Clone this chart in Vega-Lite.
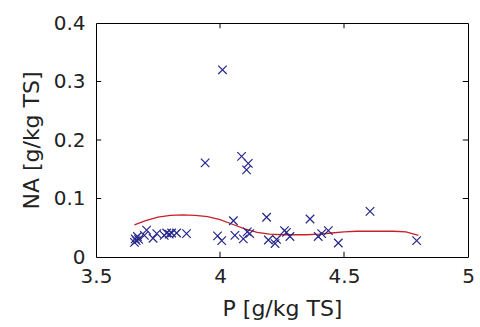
{
  "$schema": "https://vega.github.io/schema/vega-lite/v6.json",
  "width": 372,
  "height": 234,
  "autosize": {"type": "none"},
  "padding": {"left": 96, "top": 23, "right": 12, "bottom": 70},
  "background": "white",
  "config": {
    "view": {"stroke": "#000000", "strokeWidth": 1},
    "font": "DejaVu Sans",
    "axis": {
      "grid": false,
      "domain": false,
      "ticks": false,
      "format": "~g",
      "labelFont": "DejaVu Sans",
      "labelFontSize": 20,
      "labelColor": "#222222",
      "titleFont": "DejaVu Sans",
      "titleFontSize": 22,
      "titleFontWeight": "normal",
      "titleColor": "#222222"
    }
  },
  "datasets": {
    "pts": [
      {"P": 3.655, "NA": 0.025},
      {"P": 3.658, "NA": 0.031},
      {"P": 3.662, "NA": 0.028},
      {"P": 3.667, "NA": 0.035},
      {"P": 3.672, "NA": 0.03},
      {"P": 3.704, "NA": 0.046},
      {"P": 3.695, "NA": 0.037},
      {"P": 3.73, "NA": 0.032},
      {"P": 3.745, "NA": 0.04},
      {"P": 3.775, "NA": 0.037},
      {"P": 3.785, "NA": 0.041},
      {"P": 3.795, "NA": 0.039},
      {"P": 3.805, "NA": 0.041},
      {"P": 3.825, "NA": 0.041},
      {"P": 3.865, "NA": 0.04},
      {"P": 3.94, "NA": 0.161},
      {"P": 3.99, "NA": 0.036},
      {"P": 4.007, "NA": 0.028},
      {"P": 4.01, "NA": 0.32},
      {"P": 4.054, "NA": 0.062},
      {"P": 4.06, "NA": 0.037},
      {"P": 4.087, "NA": 0.172},
      {"P": 4.094, "NA": 0.031},
      {"P": 4.107, "NA": 0.149},
      {"P": 4.114, "NA": 0.16},
      {"P": 4.11, "NA": 0.043},
      {"P": 4.12, "NA": 0.04},
      {"P": 4.188, "NA": 0.068},
      {"P": 4.195, "NA": 0.029},
      {"P": 4.222, "NA": 0.023},
      {"P": 4.228, "NA": 0.03},
      {"P": 4.26, "NA": 0.045},
      {"P": 4.268, "NA": 0.042},
      {"P": 4.282, "NA": 0.035},
      {"P": 4.363, "NA": 0.065},
      {"P": 4.396, "NA": 0.035},
      {"P": 4.41, "NA": 0.04},
      {"P": 4.437, "NA": 0.045},
      {"P": 4.477, "NA": 0.024},
      {"P": 4.605, "NA": 0.078},
      {"P": 4.793, "NA": 0.028}
    ],
    "fit": [
      {"P": 3.655, "NA": 0.055},
      {"P": 3.7, "NA": 0.062},
      {"P": 3.75, "NA": 0.068},
      {"P": 3.8, "NA": 0.071},
      {"P": 3.85, "NA": 0.072},
      {"P": 3.9, "NA": 0.071},
      {"P": 3.95, "NA": 0.069},
      {"P": 4.0, "NA": 0.064},
      {"P": 4.05, "NA": 0.056},
      {"P": 4.1, "NA": 0.048},
      {"P": 4.15, "NA": 0.042},
      {"P": 4.2, "NA": 0.039},
      {"P": 4.25, "NA": 0.038},
      {"P": 4.3, "NA": 0.038},
      {"P": 4.35, "NA": 0.038},
      {"P": 4.4, "NA": 0.039},
      {"P": 4.45, "NA": 0.041},
      {"P": 4.5, "NA": 0.043},
      {"P": 4.55, "NA": 0.044},
      {"P": 4.6, "NA": 0.044},
      {"P": 4.7, "NA": 0.044},
      {"P": 4.75, "NA": 0.043},
      {"P": 4.8, "NA": 0.037}
    ],
    "xticks": [{"P": 4}, {"P": 4.5}],
    "yticks": [{"NA": 0.1}, {"NA": 0.2}, {"NA": 0.3}]
  },
  "layer": [
    {
      "data": {"name": "xticks"},
      "mark": {"type": "rule", "color": "#000000", "strokeWidth": 1},
      "encoding": {
        "x": {"field": "P", "type": "quantitative", "scale": {"domain": [3.5, 5], "nice": false, "zero": false},
          "axis": {"orient": "bottom", "title": "P [g/kg TS]", "values": [3.5, 4, 4.5, 5], "labelPadding": 9, "titlePadding": 12, "labelFlush": false}},
        "y": {"datum": 0, "type": "quantitative", "scale": {"domain": [0, 0.4], "nice": false},
          "axis": {"orient": "left", "title": "NA [g/kg TS]", "values": [0, 0.1, 0.2, 0.3, 0.4], "labelPadding": 11, "titlePadding": 10, "labelFlush": false}},
        "y2": {"datum": 0.009}
      }
    },
    {
      "data": {"name": "xticks"},
      "mark": {"type": "rule", "color": "#000000", "strokeWidth": 1},
      "encoding": {
        "x": {"field": "P", "type": "quantitative"},
        "y": {"datum": 0.4, "type": "quantitative"},
        "y2": {"datum": 0.391}
      }
    },
    {
      "data": {"name": "yticks"},
      "mark": {"type": "rule", "color": "#000000", "strokeWidth": 1},
      "encoding": {
        "y": {"field": "NA", "type": "quantitative"},
        "x": {"datum": 3.5, "type": "quantitative"},
        "x2": {"datum": 3.521}
      }
    },
    {
      "data": {"name": "yticks"},
      "mark": {"type": "rule", "color": "#000000", "strokeWidth": 1},
      "encoding": {
        "y": {"field": "NA", "type": "quantitative"},
        "x": {"datum": 5, "type": "quantitative"},
        "x2": {"datum": 4.979}
      }
    },
    {
      "data": {"name": "fit"},
      "mark": {"type": "line", "color": "#c8202a", "strokeWidth": 1.3},
      "encoding": {
        "x": {"field": "P", "type": "quantitative"},
        "y": {"field": "NA", "type": "quantitative"}
      }
    },
    {
      "data": {"name": "pts"},
      "mark": {"type": "point", "shape": "M-1,-1L1,1M-1,1L1,-1", "size": 72, "filled": false, "color": "#26268a", "strokeWidth": 1.2, "opacity": 1},
      "encoding": {
        "x": {"field": "P", "type": "quantitative"},
        "y": {"field": "NA", "type": "quantitative"}
      }
    }
  ]
}
